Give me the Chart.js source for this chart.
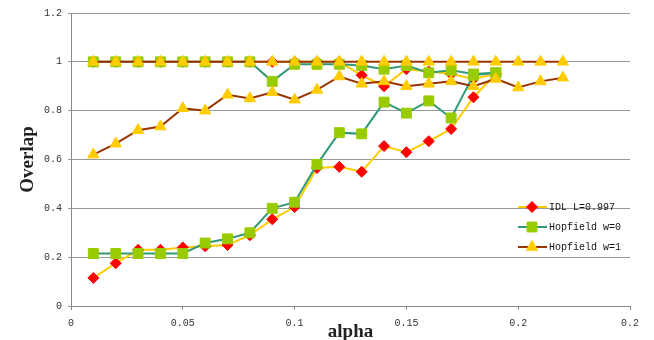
<!DOCTYPE html>
<html>
<head>
<meta charset="utf-8">
<script src="https://cdn.jsdelivr.net/npm/chart.js@4.4.1/dist/chart.umd.min.js"></script>
<style>
  html, body { margin: 0; padding: 0; background: #fff; }
</style>
</head>
<body>
<canvas id="myChart" width="654" height="340"></canvas>
<script>
// x values (alpha)
const alpha = [0.01, 0.02, 0.03, 0.04, 0.05, 0.06, 0.07, 0.08, 0.09, 0.10, 0.11,
               0.12, 0.13, 0.14, 0.15, 0.16, 0.17, 0.18, 0.19, 0.20, 0.21, 0.22];

const xTickLabels = ['0', '0.05', '0.1', '0.15', '0.2', '0.2'];
const yTickLabels = ['0', '0.2', '0.4', '0.6', '0.8', '1', '1.2'];
const seriesNames = ['IDL L=0.997', 'Hopfield w=0', 'Hopfield w=1'];

// IDL L=0.997 (two runs)
const idlHigh = [1, 1, 1, 1, 1, 1, 1, 1, 1, 1, 1, 1, 0.945, 0.90, 0.97, 0.96, 0.95, 0.93, 0.95];
const idlLow  = [0.115, 0.175, 0.23, 0.23, 0.24, 0.245, 0.25, 0.29, 0.355, 0.405, 0.565,
                 0.57, 0.55, 0.655, 0.63, 0.675, 0.725, 0.855, 0.95];

// Hopfield w=0 (two runs)
const hopW0High = [1, 1, 1, 1, 1, 1, 1, 1, 0.92, 0.99, 0.99, 0.99, 0.985, 0.97, 0.985,
                   0.955, 0.965, 0.95, 0.955];
const hopW0Low  = [0.215, 0.215, 0.215, 0.215, 0.215, 0.258, 0.275, 0.30, 0.40, 0.425, 0.58,
                   0.71, 0.705, 0.835, 0.79, 0.84, 0.77, 0.945, 0.955];

// Hopfield w=1 (two runs)
const hopW1High = [1, 1, 1, 1, 1, 1, 1, 1, 1, 1, 1, 1, 1, 1, 1, 1, 1, 1, 1, 1, 1, 1];
const hopW1Low  = [0.62, 0.665, 0.72, 0.735, 0.81, 0.80, 0.865, 0.85, 0.875, 0.845, 0.885,
                   0.94, 0.91, 0.92, 0.90, 0.91, 0.92, 0.90, 0.93, 0.895, 0.92, 0.935];

const toPoints = (vals) => vals.map((v, i) => ({ x: alpha[i], y: v }));

const idlStyle = { borderColor: '#FFCC00', pointBackgroundColor: '#FF0000', pointBorderColor: '#FF0000',
                   pointStyle: 'rectRot', pointRadius: 5.5, order: 3 };
const w0Style  = { borderColor: '#339977', pointBackgroundColor: '#99CC00', pointBorderColor: '#99CC00',
                   pointStyle: 'rect', pointRadius: 7, order: 2 };
const w1Style  = { borderColor: '#993300', pointBackgroundColor: '#FFCC00', pointBorderColor: '#FFCC00',
                   pointStyle: 'triangle', pointRadius: 6.5, order: 1 };

const common = { borderWidth: 2, pointBorderWidth: 1, tension: 0, fill: false };

// legend drawn inside the plot area, lower right
const innerLegend = {
    id: 'innerLegend',
    afterDraw(chart) {
        const ctx = chart.ctx;
        const rows = [207, 227, 247];
        const styles = [idlStyle, w0Style, w1Style];
        ctx.save();
        styles.forEach((s, i) => {
            const y = rows[i];
            ctx.strokeStyle = s.borderColor;
            ctx.lineWidth = 2;
            ctx.beginPath();
            ctx.moveTo(518, y);
            ctx.lineTo(547, y);
            ctx.stroke();
            ctx.fillStyle = s.pointBackgroundColor;
            ctx.strokeStyle = s.pointBorderColor;
            ctx.lineWidth = 1;
            Chart.helpers.drawPoint(ctx, { pointStyle: s.pointStyle, radius: s.pointRadius, rotation: 0, borderWidth: 1 }, 532, y);
            ctx.fillStyle = '#111';
            ctx.font = '10px "Liberation Mono"';
            ctx.textAlign = 'left';
            ctx.textBaseline = 'middle';
            ctx.fillText(seriesNames[i], 549, y);
        });
        ctx.restore();
    }
};

const ctx = document.getElementById('myChart').getContext('2d');
const myChart = new Chart(ctx, {
    type: 'line',
    data: {
        datasets: [
            { label: seriesNames[0], data: toPoints(idlHigh), ...common, ...idlStyle },
            { label: seriesNames[0], data: toPoints(idlLow), ...common, ...idlStyle },
            { label: seriesNames[1], data: toPoints(hopW0High), ...common, ...w0Style },
            { label: seriesNames[1], data: toPoints(hopW0Low), ...common, ...w0Style },
            { label: seriesNames[2], data: toPoints(hopW1High), ...common, ...w1Style },
            { label: seriesNames[2], data: toPoints(hopW1Low), ...common, ...w1Style }
        ]
    },
    options: {
        responsive: false,
        animation: false,
        devicePixelRatio: 1,
        layout: { padding: { top: 13, right: 24, left: 0, bottom: 0 } },
        plugins: {
            legend: { display: false },
            tooltip: { enabled: false }
        },
        scales: {
            x: {
                type: 'linear',
                min: 0,
                max: 0.25,
                ticks: {
                    stepSize: 0.05,
                    padding: 7,
                    color: '#333',
                    font: { family: 'Liberation Mono', size: 10 },
                    maxRotation: 0,
                    callback: (v, i) => xTickLabels[i]
                },
                grid: { drawOnChartArea: false, drawTicks: true, tickLength: 4, color: '#888' },
                border: { color: '#888', width: 1 },
                title: {
                    display: true,
                    text: 'alpha',
                    color: '#222',
                    font: { family: 'Liberation Serif', size: 19, weight: 'bold', lineHeight: 1 },
                    padding: { top: 0, bottom: -2 }
                },
                afterFit: (scale) => { scale.height = 34; }
            },
            y: {
                min: 0,
                max: 1.2,
                ticks: {
                    stepSize: 0.2,
                    padding: 6,
                    color: '#333',
                    font: { family: 'Liberation Mono', size: 10 },
                    callback: (v, i) => yTickLabels[i]
                },
                grid: { color: '#999', tickLength: 3 },
                border: { color: '#888', width: 1 },
                title: {
                    display: true,
                    text: 'Overlap',
                    color: '#222',
                    font: { family: 'Liberation Serif', size: 19, weight: 'bold', lineHeight: 1 },
                    padding: { top: 19, bottom: 0 }
                },
                afterFit: (scale) => { scale.width = 71; }
            }
        }
    },
    plugins: [innerLegend]
});
</script>
</body>
</html>
